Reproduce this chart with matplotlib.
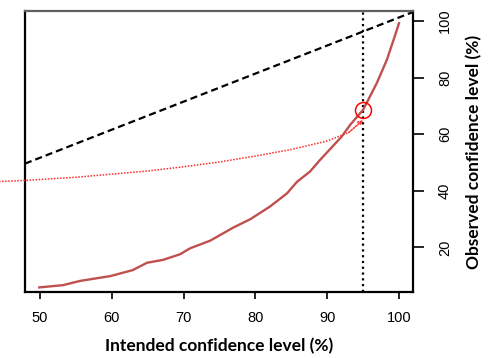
import matplotlib
matplotlib.use('Agg')
import matplotlib.pyplot as plt

# Observed vs intended confidence level
intended = [49.9, 53.2, 55.6, 59.8, 62.9, 64.9, 67.1, 69.5, 70.9, 73.7, 76.9,
            79.3, 82.0, 84.4, 85.8, 87.6, 89.0, 92.0, 93.2, 95.0, 96.9, 98.3,
            99.4, 100.0]
observed = [5.9, 6.7, 8.2, 9.9, 12.0, 14.6, 15.6, 17.6, 19.7, 22.4, 27.0,
            30.0, 34.4, 39.1, 43.2, 46.8, 50.9, 59.1, 63.3, 68.6, 78.0, 86.2,
            94.5, 99.2]

# ideal (diagonal) reference line
ideal_x = [47.9, 102.0]
ideal_y = [49.6, 103.2]

# extrapolated dotted curve ending at the 95% point
extrap_x = [42, 48, 55, 60, 65, 70, 75, 80, 85, 90, 93, 95]
extrap_y = [43.0, 43.7, 44.8, 45.9, 47.0, 48.5, 50.2, 52.3, 54.6, 57.6, 60.6, 65.0]

target_level = 95
target_observed = 68.6

xticks = [50, 60, 70, 80, 90, 100]
yticks = [20, 40, 60, 80, 100]

fig = plt.figure(figsize=(4.99, 3.58), dpi=100)
ax = fig.add_axes([25 / 499, 1 - 292 / 358, (413 - 25) / 499, (292 - 11) / 358])

ax.plot(ideal_x, ideal_y, color='black', lw=1.6, linestyle=(0, (3.2, 1.8)))
ax.axvline(target_level, color='black', lw=1.6, linestyle=(0, (1, 1.6)))
ax.plot(extrap_x[:-1], extrap_y[:-1], color='#ff2a2a', lw=1.1, linestyle=(0, (1, 1)),
        clip_on=False, zorder=3)
ax.annotate('', xy=(extrap_x[-1], extrap_y[-1]), xytext=(extrap_x[-2], extrap_y[-2]),
            arrowprops=dict(arrowstyle='->', color='#ff2a2a', lw=1.1,
                            linestyle=(0, (1, 1)), mutation_scale=7, shrinkA=0, shrinkB=0))
ax.plot(intended, observed, color='#c0504d', lw=1.7, zorder=4)
ax.plot([target_level], [target_observed], marker='o', markersize=11.5,
        markerfacecolor='none', markeredgecolor='#ff0000', markeredgewidth=1.1, zorder=5)

ax.set_xlim(47.91, 101.95)
ax.set_ylim(4.28, 103.5)

for side in ['left', 'right', 'bottom']:
    ax.spines[side].set_linewidth(1.6)
    ax.spines[side].set_color('black')
ax.spines['top'].set_linewidth(1.6)
ax.spines['top'].set_color('#606060')

ax.yaxis.tick_right()
ax.yaxis.set_label_position('right')
ax.set_xticks(xticks)
ax.set_yticks(yticks)
ax.tick_params(axis='x', direction='out', length=5, width=1.2, pad=9,
               labelsize=10.5)
ax.tick_params(axis='y', direction='out', length=8, width=1.2, pad=10,
               labelsize=10.5, labelrotation=90)
for lab in ax.get_xticklabels() + ax.get_yticklabels():
    lab.set_fontfamily('Liberation Sans')
for lab in ax.get_yticklabels():
    lab.set_verticalalignment('center')

ax.set_xlabel('Intended confidence level (%)', fontfamily='Lato',
              fontweight='bold', fontsize=12.5, labelpad=9)
ax.set_ylabel('Observed confidence level (%)', fontfamily='Lato',
              fontweight='bold', fontsize=12.5, labelpad=10, rotation=90)

fig.savefig('out.png', dpi=100)
